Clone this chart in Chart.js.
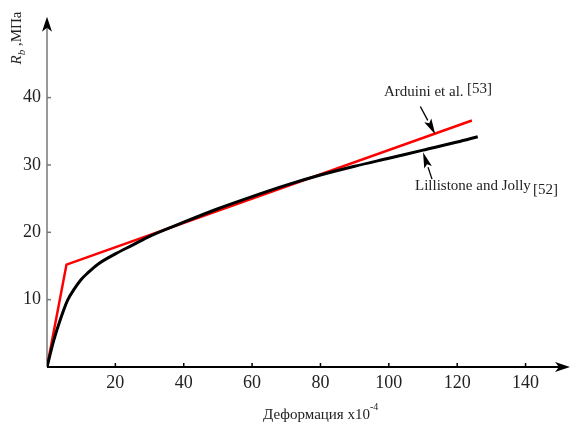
<!DOCTYPE html>
<html>
<head>
<meta charset="utf-8">
<script src="https://cdn.jsdelivr.net/npm/chart.js@4/dist/chart.umd.min.js"></script>
<style>
  html, body { margin: 0; padding: 0; background: #fff; }
  #wrap { width: 572px; height: 424px; }
</style>
</head>
<body>
<div id="wrap"><canvas id="chart" width="572" height="424"></canvas></div>
<script>
// Lillistone and Jolly [52] - black curve
const strainBlack = [0, 2, 4, 6, 8, 10, 12, 15, 20, 25, 30, 40, 50, 60, 70, 80, 90, 100, 110, 120, 126];
const stressBlack = [0, 4.0, 7.2, 9.9, 11.6, 13.0, 14.0, 15.3, 16.8, 18.1, 19.4, 21.5, 23.5, 25.3, 27.0, 28.5, 29.8, 31.0, 32.2, 33.4, 34.2];

// Arduini et al. [53] - red bilinear
const strainRed = [0, 5.7, 124.3];
const stressRed = [0, 15.2, 36.6];

const xTicks = [20, 40, 60, 80, 100, 120, 140];
const yTicks = [10, 20, 30, 40];

const serif = "'Liberation Serif', 'Times New Roman', serif";

function toPoints(xs, ys) {
  return xs.map((x, i) => ({ x: x, y: ys[i] }));
}

// linear lookup on a series, used to hook the annotation arrows onto the lines
function valueAt(xs, ys, x) {
  for (let i = 1; i < xs.length; i++) {
    if (x <= xs[i]) {
      const t = (x - xs[i - 1]) / (xs[i] - xs[i - 1]);
      return ys[i - 1] + t * (ys[i] - ys[i - 1]);
    }
  }
  return ys[ys.length - 1];
}

function arrow(ctx, x0, y0, x1, y1, headLen, headW) {
  const a = Math.atan2(y1 - y0, x1 - x0);
  const bx = x1 - headLen * Math.cos(a);
  const by = y1 - headLen * Math.sin(a);
  ctx.beginPath();
  ctx.moveTo(x0, y0);
  ctx.lineTo(bx, by);
  ctx.stroke();
  ctx.beginPath();
  ctx.moveTo(x1, y1);
  ctx.lineTo(bx + headW * Math.sin(a), by - headW * Math.cos(a));
  ctx.lineTo(x1 - headLen * 0.8 * Math.cos(a), y1 - headLen * 0.8 * Math.sin(a));
  ctx.lineTo(bx - headW * Math.sin(a), by + headW * Math.cos(a));
  ctx.closePath();
  ctx.fill();
}

// Axes with arrowheads and inward tick marks
const axesPlugin = {
  id: 'axesArrows',
  beforeDatasetsDraw(chart) {
    const { ctx, chartArea } = chart;
    const xs = chart.scales.x, ys = chart.scales.y;
    const ox = xs.getPixelForValue(0), oy = ys.getPixelForValue(0);
    ctx.save();
    // y axis
    ctx.strokeStyle = '#777';
    ctx.lineWidth = 1.5;
    ctx.beginPath();
    ctx.moveTo(ox, oy);
    ctx.lineTo(ox, chartArea.top + 8);
    ctx.stroke();
    yTicks.forEach(v => {
      const p = ys.getPixelForValue(v);
      ctx.beginPath();
      ctx.moveTo(ox, p);
      ctx.lineTo(ox + 4, p);
      ctx.stroke();
    });
    // x axis
    ctx.strokeStyle = '#000';
    ctx.lineWidth = 2;
    ctx.beginPath();
    ctx.moveTo(ox, oy);
    ctx.lineTo(chartArea.right - 8, oy);
    ctx.stroke();
    ctx.lineWidth = 1.5;
    xTicks.forEach(v => {
      const p = xs.getPixelForValue(v);
      ctx.beginPath();
      ctx.moveTo(p, oy);
      ctx.lineTo(p, oy - 4);
      ctx.stroke();
    });
    // arrowheads
    ctx.fillStyle = '#000';
    ctx.beginPath();
    ctx.moveTo(ox, chartArea.top);
    ctx.lineTo(ox - 5, chartArea.top + 15);
    ctx.lineTo(ox, chartArea.top + 11);
    ctx.lineTo(ox + 5, chartArea.top + 15);
    ctx.closePath();
    ctx.fill();
    ctx.beginPath();
    ctx.moveTo(chartArea.right, oy);
    ctx.lineTo(chartArea.right - 15, oy - 5);
    ctx.lineTo(chartArea.right - 11, oy);
    ctx.lineTo(chartArea.right - 15, oy + 5);
    ctx.closePath();
    ctx.fill();
    ctx.restore();
  }
};

// Axis titles and the two callouts
const labelsPlugin = {
  id: 'labels',
  afterDraw(chart) {
    const { ctx } = chart;
    const xs = chart.scales.x, ys = chart.scales.y;
    ctx.save();
    ctx.fillStyle = '#222';
    ctx.strokeStyle = '#000';
    ctx.textBaseline = 'alphabetic';
    ctx.textAlign = 'left';

    // x title
    ctx.font = '15px ' + serif;
    const xt = 'Деформация x10';
    ctx.fillText(xt, 263, 419);
    const w = ctx.measureText(xt).width;
    ctx.font = '10px ' + serif;
    ctx.fillText('-4', 263 + w, 410);

    // y title, rotated
    ctx.save();
    ctx.translate(21, 38);
    ctx.rotate(-Math.PI / 2);
    ctx.font = 'italic 15px ' + serif;
    const wR = ctx.measureText('R').width;
    ctx.font = 'italic 11px ' + serif;
    const wb = ctx.measureText('b').width;
    ctx.font = '15px ' + serif;
    const rest = ' ,МПа';
    const wRest = ctx.measureText(rest).width;
    let cx = -(wR + wb + wRest) / 2;
    ctx.font = 'italic 15px ' + serif;
    ctx.fillText('R', cx, 0);
    cx += wR;
    ctx.font = 'italic 11px ' + serif;
    ctx.fillText('b', cx, 4);
    cx += wb;
    ctx.font = '15px ' + serif;
    ctx.fillText(rest, cx, 0);
    ctx.restore();

    ctx.lineWidth = 1.3;
    ctx.fillStyle = '#000';
    // Arduini et al. callout -> red line
    const ax = 113.6;
    const tipAx = xs.getPixelForValue(ax);
    const tipAy = ys.getPixelForValue(valueAt(strainRed, stressRed, ax)) + 1;
    arrow(ctx, tipAx - 15, tipAy - 28, tipAx, tipAy, 16, 4);
    ctx.fillStyle = '#222';
    ctx.font = '15px ' + serif;
    ctx.fillText('Arduini et al.', 384, 96);
    ctx.fillText('[53]', 467, 93);

    // Lillistone and Jolly callout -> black curve
    ctx.fillStyle = '#000';
    const bx = 110;
    const tipBx = xs.getPixelForValue(bx);
    const tipBy = ys.getPixelForValue(valueAt(strainBlack, stressBlack, bx)) + 2;
    arrow(ctx, tipBx + 9, tipBy + 27, tipBx, tipBy, 16, 4);
    ctx.fillStyle = '#222';
    ctx.fillText('Lillistone and Jolly', 415, 190);
    ctx.fillText('[52]', 533, 194);
    ctx.restore();
  }
};

new Chart(document.getElementById('chart'), {
  type: 'scatter',
  data: {
    datasets: [
      {
        label: 'Lillistone and Jolly [52]',
        data: toPoints(strainBlack, stressBlack),
        showLine: true,
        borderColor: '#000',
        borderWidth: 3,
        pointRadius: 0,
        cubicInterpolationMode: 'monotone',
        tension: 0.4
      },
      {
        label: 'Arduini et al. [53]',
        data: toPoints(strainRed, stressRed),
        showLine: true,
        borderColor: '#ff0000',
        borderWidth: 2.5,
        pointRadius: 0,
        tension: 0
      }
    ]
  },
  options: {
    responsive: false,
    animation: false,
    devicePixelRatio: 1,
    layout: { padding: { top: 12, right: 2, left: 0, bottom: 0 } },
    plugins: {
      legend: { display: false },
      tooltip: { enabled: false }
    },
    scales: {
      x: {
        type: 'linear',
        min: 0,
        max: 153,
        grid: { display: false, drawTicks: false },
        border: { display: false },
        afterBuildTicks: scale => { scale.ticks = xTicks.map(v => ({ value: v })); },
        afterFit: scale => { scale.height = 57; },
        ticks: {
          autoSkip: false,
          maxRotation: 0,
          padding: 5,
          color: '#222',
          font: { family: serif, size: 18 }
        }
      },
      y: {
        type: 'linear',
        min: 0,
        max: 52,
        grid: { display: false, drawTicks: false },
        border: { display: false },
        afterBuildTicks: scale => { scale.ticks = yTicks.map(v => ({ value: v })); },
        afterFit: scale => { scale.width = 47; },
        ticks: {
          autoSkip: false,
          padding: 6,
          color: '#222',
          font: { family: serif, size: 18 }
        }
      }
    }
  },
  plugins: [axesPlugin, labelsPlugin]
});
</script>
</body>
</html>
